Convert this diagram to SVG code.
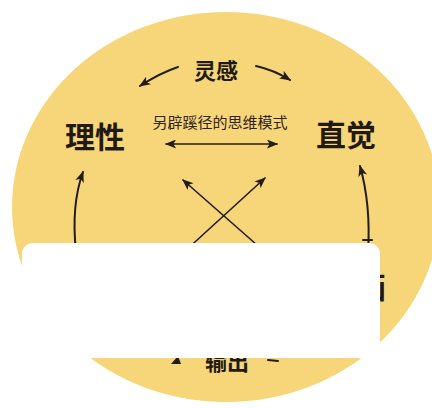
<svg xmlns="http://www.w3.org/2000/svg" width="432" height="408" viewBox="0 0 432 408">
  <defs>
    <marker id="ah" viewBox="0 0 10 8" refX="9" refY="4" markerWidth="12" markerHeight="9" markerUnits="userSpaceOnUse" orient="auto-start-reverse">
      <path d="M0,0 L10,4 L0,8 L2.5,4 Z" fill="#231c14"/>
    </marker>
    <style>
      .lbl { font-family: "Noto Sans CJK SC", "Noto Sans", sans-serif; fill: #211a12; text-anchor: middle; }
      .big { font-size: 30px; font-weight: 700; }
      .mid { font-size: 22px; font-weight: 700; }
      .sub { font-size: 15px; font-weight: 400; fill: #2e241a; }
      .con { fill: none; stroke: #231c14; stroke-width: 2; stroke-linecap: round; }
      .thin { stroke-width: 1.6; }
    </style>
  </defs>
  <rect x="0" y="0" width="432" height="408" fill="#ffffff"/>
  <ellipse id="disc" cx="226" cy="207" rx="214" ry="195" fill="#f7d67a"/>

  <g id="connectors">
    <path class="con" d="M178,67 Q160,73 140,86" marker-end="url(#ah)"/>
    <path class="con" d="M256,66 Q274,70 290,80" marker-end="url(#ah)"/>
    <path class="con thin" d="M166,144 L277,144" marker-start="url(#ah)" marker-end="url(#ah)"/>
    <path class="con thin" d="M265,252 L183,180" marker-end="url(#ah)"/>
    <path class="con thin" d="M184,252 L265,178" marker-end="url(#ah)"/>
    <path class="con" d="M76,252 Q71,205 83,172" marker-end="url(#ah)"/>
    <path class="con" d="M368,252 Q371,205 360,166" marker-end="url(#ah)"/>
    <path class="con" d="M363,240 L372,240"/>
    <path d="M171,364 L178,356 L181,364 Z" fill="#231c14"/>
    <path class="con" d="M268,360 L278,361"/>
  </g>

  <g id="node-linggan"><text class="lbl mid" x="216" y="79">灵感</text></g>
  <g id="node-mode"><text class="lbl sub" x="220" y="128">另辟蹊径的思维模式</text></g>
  <g id="node-lixing"><text class="lbl big" x="95" y="148">理性</text></g>
  <g id="node-zhijue"><text class="lbl big" x="346" y="146">直觉</text></g>
  <g id="node-right"><text class="lbl big" x="371" y="298">画</text></g>
  <g id="node-shuchu"><text class="lbl mid" x="227" y="370">输出</text></g>

  <rect id="cover" x="22" y="243" width="358" height="115" rx="11" fill="#ffffff"/>
</svg>
